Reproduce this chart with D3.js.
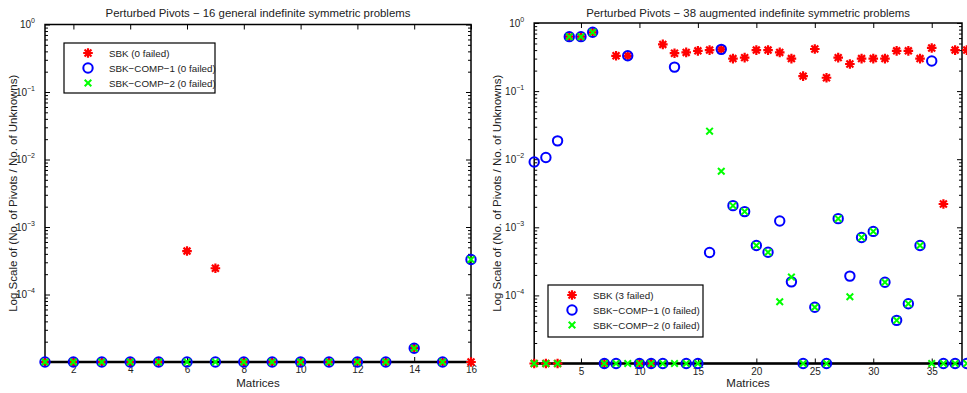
<!DOCTYPE html>
<html>
<head>
<meta charset="utf-8">
<script src="https://cdnjs.cloudflare.com/ajax/libs/d3/7.8.5/d3.min.js"></script>
<style>
  body { margin: 0; background: #fff; }
  text { font-family: "Liberation Sans", Arial, Helvetica, sans-serif; fill: #222; }
</style>
</head>
<body>
<div id="chart"></div>
<script>
// zeros are drawn on the floor of the log axis (1e-5)
const leftMatrices = d3.range(1, 17);
const leftSBK   = [0, 0, 0, 0, 0, 4.4e-4, 2.45e-4, 0, 0, 0, 0, 0, 0, 1.6e-5, 0, 0];
const leftComp1 = [0, 0, 0, 0, 0, 0, 0, 0, 0, 0, 0, 0, 0, 1.6e-5, 0, 3.3e-4];
const leftComp2 = [0, 0, 0, 0, 0, 0, 0, 0, 0, 0, 0, 0, 0, 1.6e-5, 0, 3.3e-4];

const rightMatrices = d3.range(1, 39);
const rightSBK = [0, 0, 0, 0.63, 0.63, 0.73, 0, 0.33, 0.33, 0, 0, 0.485, 0.36, 0.37, 0.39, 0.40, 0.41, 0.30, 0.31,
  0.40, 0.40, 0.37, 0.30, 0.166, 0.415, 0.157, 0.31, 0.25, 0.30, 0.30, 0.30, 0.39, 0.39, 0.30, 0.43, 2.2e-3, 0.40, 0.40];
const rightComp1 = [9.1e-3, 0.0106, 0.0186, 0.63, 0.63, 0.73, 0, 0, 0.33, 0, 0, 0, 0.225, 0, 0, 4.26e-4, 0.41, 2.08e-3, 1.7e-3,
  5.4e-4, 4.3e-4, 1.24e-3, 1.58e-4, 0, 6.7e-5, 0, 1.34e-3, 1.92e-4, 7.1e-4, 8.7e-4, 1.56e-4, 4.3e-5, 7.55e-5, 5.4e-4, 0.276, 0, 0, 0];
const rightComp2 = [0, 0, 0, 0.63, 0.63, 0.73, 0, 0, 0, 0, 0, 0, 0, 0, 0, 0.0258, 6.66e-3, 2.08e-3, 1.7e-3,
  5.4e-4, 4.3e-4, 8.07e-5, 1.86e-4, 0, 6.7e-5, 0, 1.34e-3, 9.55e-5, 7.1e-4, 8.7e-4, 1.56e-4, 4.3e-5, 7.55e-5, 5.4e-4, 0, 0, 0, 0];

const leftXTicks = [2, 4, 6, 8, 10, 12, 14, 16];
const rightXTicks = [5, 10, 15, 20, 25, 30, 35];
const yTicks = [1, 1e-1, 1e-2, 1e-3, 1e-4];
const yExponents = ['0', '\u22121', '\u22122', '\u22123', '\u22124'];
const leftLegend = ['SBK (0 failed)', 'SBK\u2212COMP\u22121 (0 failed)', 'SBK\u2212COMP\u22122 (0 failed)'];
const rightLegend = ['SBK (3 failed)', 'SBK\u2212COMP\u22121 (0 failed)', 'SBK\u2212COMP\u22122 (0 failed)'];

const W = 967, H = 393;
const svg = d3.select('#chart').append('svg').attr('width', W).attr('height', H);

function marker(g, type, x, y) {
  if (type === 'star') {
    const r = 4.8, d = r * 0.72;
    g.append('path')
      .attr('d', `M${x - r},${y}H${x + r}M${x},${y - r}V${y + r}M${x - d},${y - d}L${x + d},${y + d}M${x - d},${y + d}L${x + d},${y - d}`)
      .attr('stroke', '#ff0000').attr('stroke-width', 2.2).attr('fill', 'none');
  } else if (type === 'circle') {
    g.append('circle').attr('cx', x).attr('cy', y).attr('r', 4.7)
      .attr('fill', 'none').attr('stroke', '#0000ff').attr('stroke-width', 2);
  } else {
    const r = 3.3;
    g.append('path')
      .attr('d', `M${x - r},${y - r}L${x + r},${y + r}M${x - r},${y + r}L${x + r},${y - r}`)
      .attr('stroke', '#00ff00').attr('stroke-width', 2).attr('fill', 'none');
  }
}

function drawPanel(p) {
  const g = svg.append('g');
  const x = d3.scaleLinear().domain([1, p.matrices.length]).range([p.x0, p.x1]);
  const y = d3.scaleLog().domain([1e-5, 1]).range([p.yb, p.yt]);
  const left = p.x0, right = p.frameRight;

  // minor log ticks, inward on both sides
  const minor = y.ticks().filter(v => yTicks.indexOf(v) < 0);
  g.append('g').attr('transform', `translate(${left},0)`)
    .call(d3.axisLeft(y).tickValues(minor).tickSize(-3).tickFormat(''))
    .call(a => a.select('.domain').remove());
  g.append('g').attr('transform', `translate(${right},0)`)
    .call(d3.axisRight(y).tickValues(minor).tickSize(-3).tickFormat(''))
    .call(a => a.select('.domain').remove());

  // major y ticks with labels
  const yAx = g.append('g').attr('transform', `translate(${left},0)`)
    .call(d3.axisLeft(y).tickValues(yTicks).tickSize(-5).tickPadding(4).tickFormat(() => '10'));
  yAx.select('.domain').remove();
  yAx.selectAll('text').attr('font-size', 10).attr('fill', '#222')
    .attr('dx', -6)
    .append('tspan').attr('dy', -5).attr('font-size', 7).text((d, i) => yExponents[i]);
  yAx.selectAll('text').attr('text-anchor', 'end');
  g.append('g').attr('transform', `translate(${right},0)`)
    .call(d3.axisRight(y).tickValues(yTicks).tickSize(-5).tickFormat(''))
    .call(a => a.select('.domain').remove());

  // x ticks top and bottom
  const xb = g.append('g').attr('transform', `translate(0,${p.yb})`)
    .call(d3.axisBottom(x).tickValues(p.xTicks).tickSize(-5).tickPadding(4));
  xb.select('.domain').remove();
  xb.selectAll('text').attr('font-size', 10).attr('fill', '#222');
  g.append('g').attr('transform', `translate(0,${p.yt})`)
    .call(d3.axisTop(x).tickValues(p.xTicks).tickSize(-5).tickFormat(''))
    .call(a => a.select('.domain').remove());

  // frame
  g.append('rect').attr('x', left).attr('y', p.yt).attr('width', right - left).attr('height', p.yb - p.yt)
    .attr('fill', 'none').attr('stroke', '#000').attr('stroke-width', 1.5);
  g.append('line').attr('x1', left).attr('x2', right).attr('y1', p.yb).attr('y2', p.yb)
    .attr('stroke', '#000').attr('stroke-width', 2.5);

  // data
  const series = [[p.sbk, 'star'], [p.comp1, 'circle'], [p.comp2, 'x']];
  const pts = g.append('g');
  series.forEach(([vals, type]) => {
    vals.forEach((v, i) => marker(pts, type, x(p.matrices[i]), y(v > 0 ? v : 1e-5)));
  });

  // texts
  g.append('text').attr('x', (left + right) / 2).attr('y', 17).attr('text-anchor', 'middle')
    .attr('font-size', 11.4).text(p.title);
  g.append('text').attr('x', (left + right) / 2).attr('y', 387).attr('text-anchor', 'middle')
    .attr('font-size', 11.5).text('Matrices');
  g.append('text').attr('transform', `translate(${p.ylabX},${(p.yt + p.yb) / 2}) rotate(-90)`)
    .attr('text-anchor', 'middle').attr('font-size', 11.5)
    .text('Log Scale of (No. of Pivots / No. of Unknowns)');

  // legend
  const L = p.legend;
  const lg = g.append('g');
  lg.append('rect').attr('x', L.x).attr('y', L.y).attr('width', L.w).attr('height', L.h)
    .attr('fill', '#fff').attr('stroke', '#000').attr('stroke-width', 1.2);
  ['star', 'circle', 'x'].forEach((t, i) => {
    const cy = L.y + 10 + i * 15;
    marker(lg, t, L.x + 24, cy);
    lg.append('text').attr('x', L.x + 45).attr('y', cy + 3.5).attr('font-size', 9.8).text(p.legendText[i]);
  });
}

drawPanel({
  title: 'Perturbed Pivots \u2212 16 general indefinite symmetric problems',
  matrices: leftMatrices, sbk: leftSBK, comp1: leftComp1, comp2: leftComp2,
  xTicks: leftXTicks, x0: 45, x1: 471, frameRight: 471, yt: 24.5, yb: 362, ylabX: 17,
  legend: { x: 64, y: 43, w: 151, h: 50 }, legendText: leftLegend
});
drawPanel({
  title: 'Perturbed Pivots \u2212 38 augmented indefinite symmetric problems',
  matrices: rightMatrices, sbk: rightSBK, comp1: rightComp1, comp2: rightComp2,
  xTicks: rightXTicks, x0: 534.2, x1: 966.8, frameRight: 962, yt: 23, yb: 363.5, ylabX: 501,
  legend: { x: 548, y: 285, w: 155, h: 52 }, legendText: rightLegend
});
</script>
</body>
</html>
